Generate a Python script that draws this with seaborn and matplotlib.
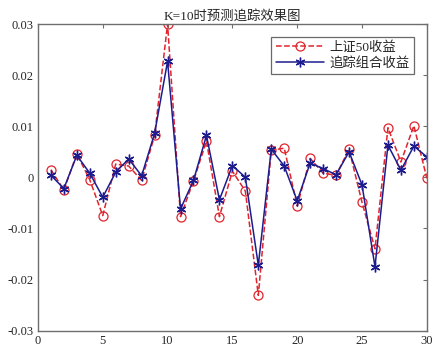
import numpy as np
import matplotlib
matplotlib.use("Agg")
import matplotlib.pyplot as plt
import pandas as pd
import seaborn as sns

# data
days = list(range(1, 31))
sz50 = [0.0015, -0.0025, 0.0046, -0.0005, -0.0075, 0.0026, 0.0022, -0.0006, 0.0082, 0.0300,
        -0.0077, -0.0007, 0.0071, -0.0077, 0.0012, -0.0027, -0.0231, 0.0053, 0.0057, -0.0056,
        0.0037, 0.0008, 0.0004, 0.0055, -0.0049, -0.0140, 0.0097, 0.0030, 0.0101, -0.0002]
track = [0.0004, -0.0022, 0.0043, 0.0008, -0.0039, 0.0010, 0.0036, 0.0003, 0.0086, 0.0227,
         -0.0062, -0.0006, 0.0082, -0.0044, 0.0023, 0.0000, -0.0172, 0.0055, 0.0022, -0.0046,
         0.0028, 0.0017, 0.0005, 0.0050, -0.0015, -0.0175, 0.0063, 0.0014, 0.0061, 0.0040]
labels = ["上证50收益", "追踪组合收益"]
title = "K=10时预测追踪效果图"

sns.set_style("white")
fonts = ["Liberation Serif", "Noto Sans CJK SC"]
plt.rcParams["font.family"] = fonts
plt.rcParams["font.size"] = 9

red = "#e0242c"
blue = "#1c1c8e"
grey = "#6e6e6e"

fig = plt.figure(figsize=(4.36, 3.48), dpi=100)
ax = fig.add_axes([0.087, 0.05, 0.892, 0.881])

sns.lineplot(x=days, y=sz50, ax=ax, color=red, linestyle="--", linewidth=1.1,
             marker="o", markersize=6.5, markerfacecolor="none", markeredgecolor=red,
             markeredgewidth=0.9, dashes=(6, 4), label=labels[0])
sns.lineplot(x=days, y=track, ax=ax, color=blue, linewidth=1.1,
             marker=(6, 2, 0), markersize=7, markeredgecolor=blue, markeredgewidth=1.0,
             label=labels[1])

ax.set_xlim(0, 30)
ax.set_ylim(-0.03, 0.03)
ax.set_xticks([0, 5, 10, 15, 20, 25, 30])
ax.set_yticks([-0.03, -0.02, -0.01, 0, 0.01, 0.02, 0.03])
ax.set_yticklabels(["-0.03", "-0.02", "-0.01", "0", "0.01", "0.02", "0.03"])
ax.tick_params(direction="in", length=3, width=0.8, color=grey, top=True, right=True,
               labelsize=9, pad=3)
for s in ax.spines.values():
    s.set_color(grey)
    s.set_linewidth(1.0)
ax.set_title(title, fontsize=9.6, pad=3)

leg = ax.legend(loc="upper right", bbox_to_anchor=(0.967, 0.958), borderaxespad=0,
                fontsize=9.6, frameon=True, fancybox=False, handlelength=3.6,
                borderpad=0.35, labelspacing=0.2, handletextpad=0.4)
leg.get_frame().set_edgecolor("#444444")
leg.get_frame().set_linewidth(0.9)

fig.savefig("out.png", dpi=100)
